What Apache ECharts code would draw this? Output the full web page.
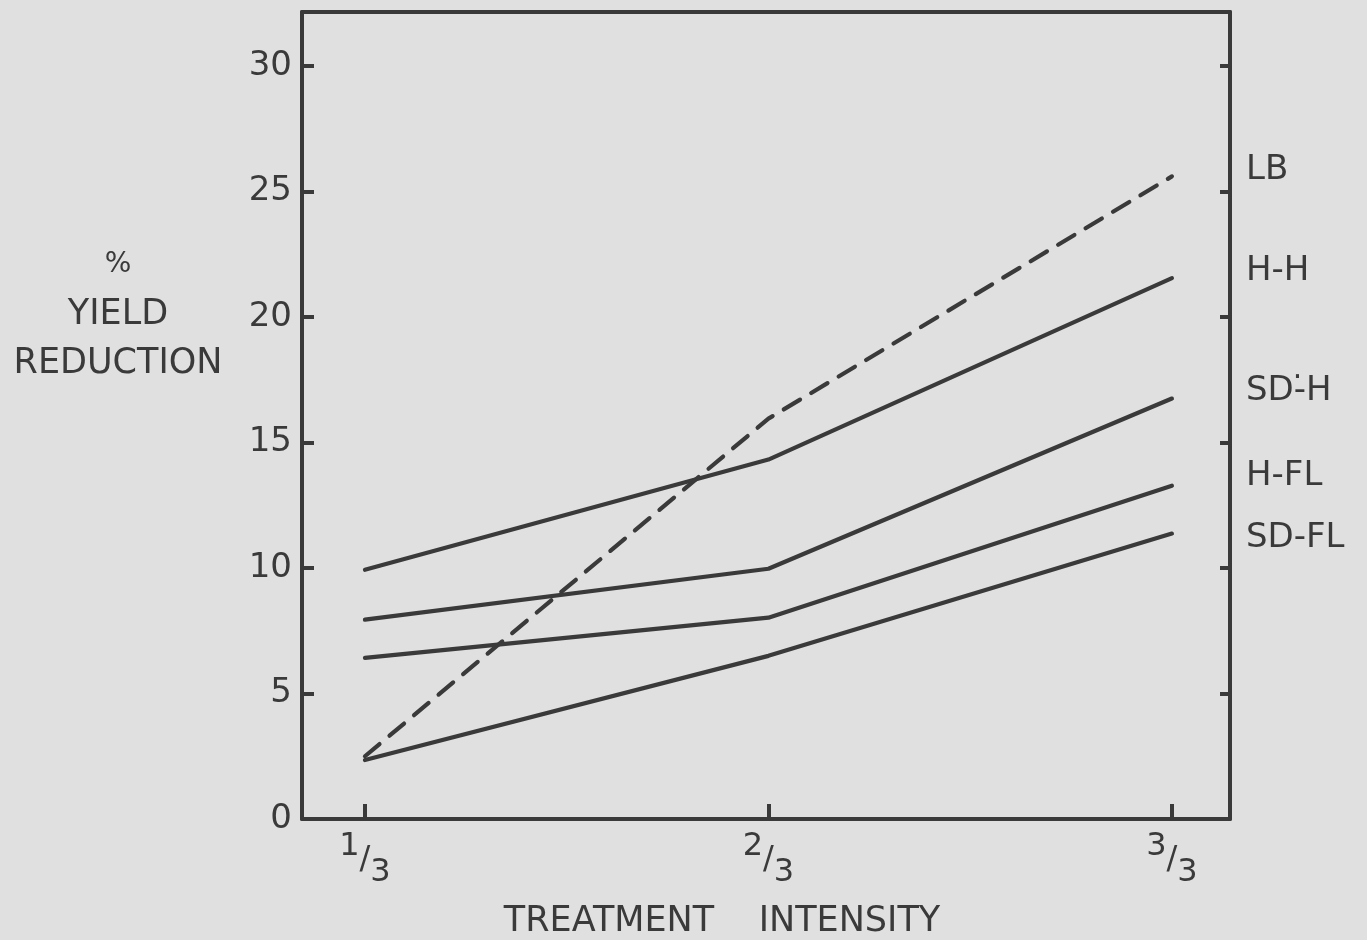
<!DOCTYPE html>
<html>
<head>
<meta charset="utf-8">
<script src="https://cdn.jsdelivr.net/npm/echarts@6/dist/echarts.min.js"></script>
<style>
html,body{margin:0;padding:0;background:#e0e0e0;}
#c{width:1367px;height:940px;}
</style>
</head>
<body>
<div id="c"></div>
<script>
// ---- data ----
const xPositions = [1, 2, 3];
const xTickLabels = ['1/3', '2/3', '3/3'];
const yTicks = [0, 5, 10, 15, 20, 25, 30];
const seriesNames = ['LB', 'H-H', 'SD-H', 'H-FL', 'SD-FL'];
const labelTexts = ['LB', 'H-H', 'SD-\u0307H', 'H-FL', 'SD-FL'];
const LB = [2.5, 15.95, 25.6];
const HH = [9.93, 14.32, 21.55];
const SDH = [7.94, 9.97, 16.75];
const HFL = [6.42, 8.02, 13.28];
const SDFL = [2.35, 6.5, 11.37];
const yTitleLines = ['%', 'YIELD', 'REDUCTION'];
const xTitle = 'TREATMENT    INTENSITY';

// ---- styles ----
const ink = '#3a3a3a';
const font = 'DejaVu Sans';
const allValues = [LB, HH, SDH, HFL, SDFL];
const labelY = [170, 271, 391, 476, 538];

const chart = echarts.init(document.getElementById('c'));

function frac(v) {
  const i = xPositions.indexOf(v);
  if (i < 0) return '';
  const parts = xTickLabels[i].split('/');
  return '{n|' + parts[0] + '}{s|/}{d|' + parts[1] + '}';
}

const series = allValues.map((vals, k) => ({
  name: seriesNames[k],
  type: 'line',
  xAxisIndex: 0,
  yAxisIndex: 0,
  data: xPositions.map((x, i) => [x, vals[i]]),
  symbol: 'none',
  lineStyle: {
    color: ink,
    width: 4.2,
    type: k === 0 ? [19, 13] : 'solid',
    cap: 'round',
    join: 'round'
  },
  silent: true,
  animation: false
}));

const graphics = labelTexts.map((t, k) => ({
  type: 'text',
  x: 1246,
  y: labelY[k],
  style: { text: t, fill: ink, font: '34px "' + font + '"', verticalAlign: 'middle' }
}));
yTitleLines.forEach((t, k) => {
  graphics.push({
    type: 'text',
    x: 118,
    y: [265, 315, 364][k],
    style: {
      text: t,
      fill: ink,
      font: (k === 0 ? '28px' : '35px') + ' "' + font + '"',
      align: 'center',
      verticalAlign: 'middle'
    }
  });
});
graphics.push({
  type: 'text',
  x: 722,
  y: 922,
  style: {
    text: xTitle,
    fill: ink,
    font: '35px "' + font + '"',
    align: 'center',
    verticalAlign: 'middle'
  }
});

const lineSt = { color: ink, width: 4 };

chart.setOption({
  backgroundColor: '#e0e0e0',
  animation: false,
  grid: { left: 302, right: 137, top: 12, bottom: 121 },
  xAxis: [{
    type: 'value',
    min: 0.844,
    max: 3.144,
    position: 'bottom',
    splitLine: { show: false },
    axisLine: { show: true, onZero: false, lineStyle: lineSt },
    axisTick: { show: true, inside: true, length: 15, customValues: xPositions, lineStyle: lineSt },
    axisLabel: {
      customValues: xPositions,
      formatter: frac,
      margin: 12,
      color: ink,
      rich: {
        n: { fontSize: 32, fontFamily: font, color: ink, padding: [0, 0, 26, 0] },
        s: { fontSize: 32, fontFamily: font, color: ink },
        d: { fontSize: 32, fontFamily: font, color: ink, padding: [26, 0, 0, 0] }
      }
    }
  }, {
    type: 'value',
    min: 0.844,
    max: 3.144,
    position: 'top',
    splitLine: { show: false },
    axisLine: { show: true, onZero: false, lineStyle: lineSt },
    axisTick: { show: false },
    axisLabel: { show: false }
  }],
  yAxis: [{
    type: 'value',
    min: 0,
    max: 32.15,
    position: 'left',
    splitLine: { show: false },
    axisLine: { show: true, onZero: false, lineStyle: lineSt },
    axisTick: { show: true, inside: true, length: 12, customValues: yTicks, lineStyle: lineSt },
    axisLabel: { customValues: yTicks, color: ink, fontSize: 34, fontFamily: font, margin: 10 }
  }, {
    type: 'value',
    min: 0,
    max: 32.15,
    position: 'right',
    splitLine: { show: false },
    axisLine: { show: true, onZero: false, lineStyle: lineSt },
    axisTick: { show: true, inside: true, length: 10, customValues: yTicks.slice(1), lineStyle: lineSt },
    axisLabel: { show: false }
  }],
  series: series,
  graphic: graphics
});
</script>
</body>
</html>
